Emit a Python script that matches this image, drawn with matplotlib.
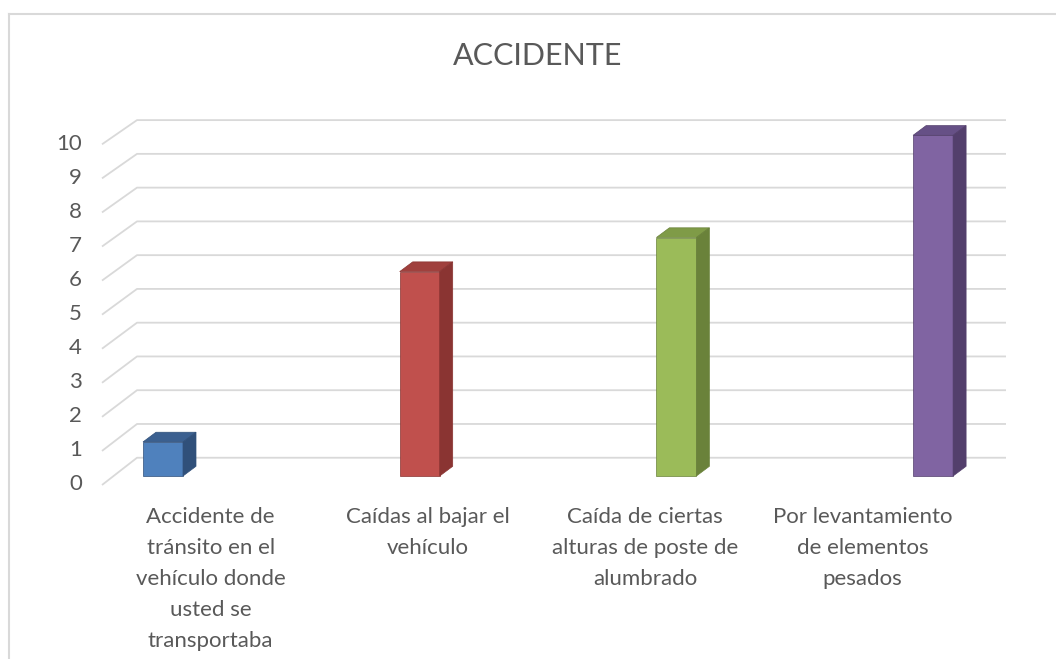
import matplotlib
matplotlib.use("Agg")
import matplotlib.pyplot as plt
from matplotlib.patches import Polygon
from matplotlib.lines import Line2D
import numpy as np

# Data
categories = [
    "Accidente de\ntránsito en el\nvehículo donde\nusted se\ntransportaba",
    "Caídas al bajar el\nvehículo",
    "Caída de ciertas\nalturas de poste de\nalumbrado",
    "Por levantamiento\nde elementos\npesados",
]
values = [1, 6, 7, 10]
yticks = list(range(0, 11))
title = "ACCIDENTE"

# Face colours for the pseudo 3D bars: front, top, side
front_colors = ["#4F81BD", "#C0504D", "#9BBB59", "#8064A2"]
top_colors = ["#3B6090", "#A0403D", "#7F9B47", "#665086"]
side_colors = ["#30507A", "#8A3432", "#6A823A", "#533F6C"]

plt.rcParams['font.family'] = ['Lato', 'DejaVu Sans']
text_color = "#595959"
grid_color = "#D9D9D9"

fig = plt.figure(figsize=(10.56, 6.59), dpi=100)
ax = fig.add_axes([0, 0, 1, 1])

# x in category units (bar centres at 0..3), y in value units
px_per_cat = 256.7
px_per_val = 34.07
x_origin_px = 163
y_origin_px = 485
ax.set_xlim(-x_origin_px / px_per_cat, (1056 - x_origin_px) / px_per_cat)
ax.set_ylim((y_origin_px - 659) / px_per_val, y_origin_px / px_per_val)
ax.axis("off")

# =====================
# Walls / gridlines (oblique depth)
# =====================
front_x = (102 - x_origin_px) / px_per_cat
back_x = (137 - x_origin_px) / px_per_cat
right_x = (1006 - x_origin_px) / px_per_cat
back_off = 0.80
back_scale = 0.991

for v in yticks:
    vb = back_off + back_scale * v
    ax.plot([front_x, back_x, right_x], [v, vb, vb], color=grid_color,
            lw=1.3, solid_capstyle="butt", zorder=1)
    ax.text((82 - x_origin_px) / px_per_cat, v + 0.02, str(v), ha="right",
            va="center", fontsize=16, color=text_color)

# =====================
# Bars
# =====================
half_w = 20 / px_per_cat
base = 0.264
dx = 13 / px_per_cat
dy = 9.7 / px_per_val

for i, val in enumerate(values):
    x0, x1 = i - half_w, i + half_w
    y0, y1 = base, base + val
    front = Polygon([(x0, y0), (x1, y0), (x1, y1), (x0, y1)], closed=True,
                    facecolor=front_colors[i], edgecolor=side_colors[i],
                    lw=0.5, zorder=3)
    top = Polygon([(x0, y1), (x1, y1), (x1 + dx, y1 + dy), (x0 + dx, y1 + dy)],
                  closed=True, facecolor=top_colors[i],
                  edgecolor=side_colors[i], lw=0.5, zorder=3)
    side = Polygon([(x1, y0), (x1 + dx, y0 + dy), (x1 + dx, y1 + dy), (x1, y1)],
                   closed=True, facecolor=side_colors[i],
                   edgecolor=side_colors[i], lw=0.5, zorder=3)
    for p in (front, top, side):
        ax.add_patch(p)

# =====================
# Category labels
# =====================
cat_w = 217.3 / px_per_cat
label_top = (y_origin_px - 507) / px_per_val
for i, lab in enumerate(categories):
    ax.text(front_x + cat_w * (i + 0.5), label_top, lab, ha="center",
            va="top", fontsize=16, color=text_color, linespacing=1.69)

# Title
fig.text(538 / 1056, 1 - 56 / 659, title, ha="center", va="center",
         fontsize=22, color=text_color)

# Chart border (extends past right and bottom edge)
fig.add_artist(Line2D([9 / 1056, 9 / 1056], [0, 1 - 13.5 / 659],
                      transform=fig.transFigure, color=grid_color, lw=1.5))
fig.add_artist(Line2D([9 / 1056, 1], [1 - 13.5 / 659, 1 - 13.5 / 659],
                      transform=fig.transFigure, color=grid_color, lw=1.5))

fig.savefig("out.png", dpi=100)
